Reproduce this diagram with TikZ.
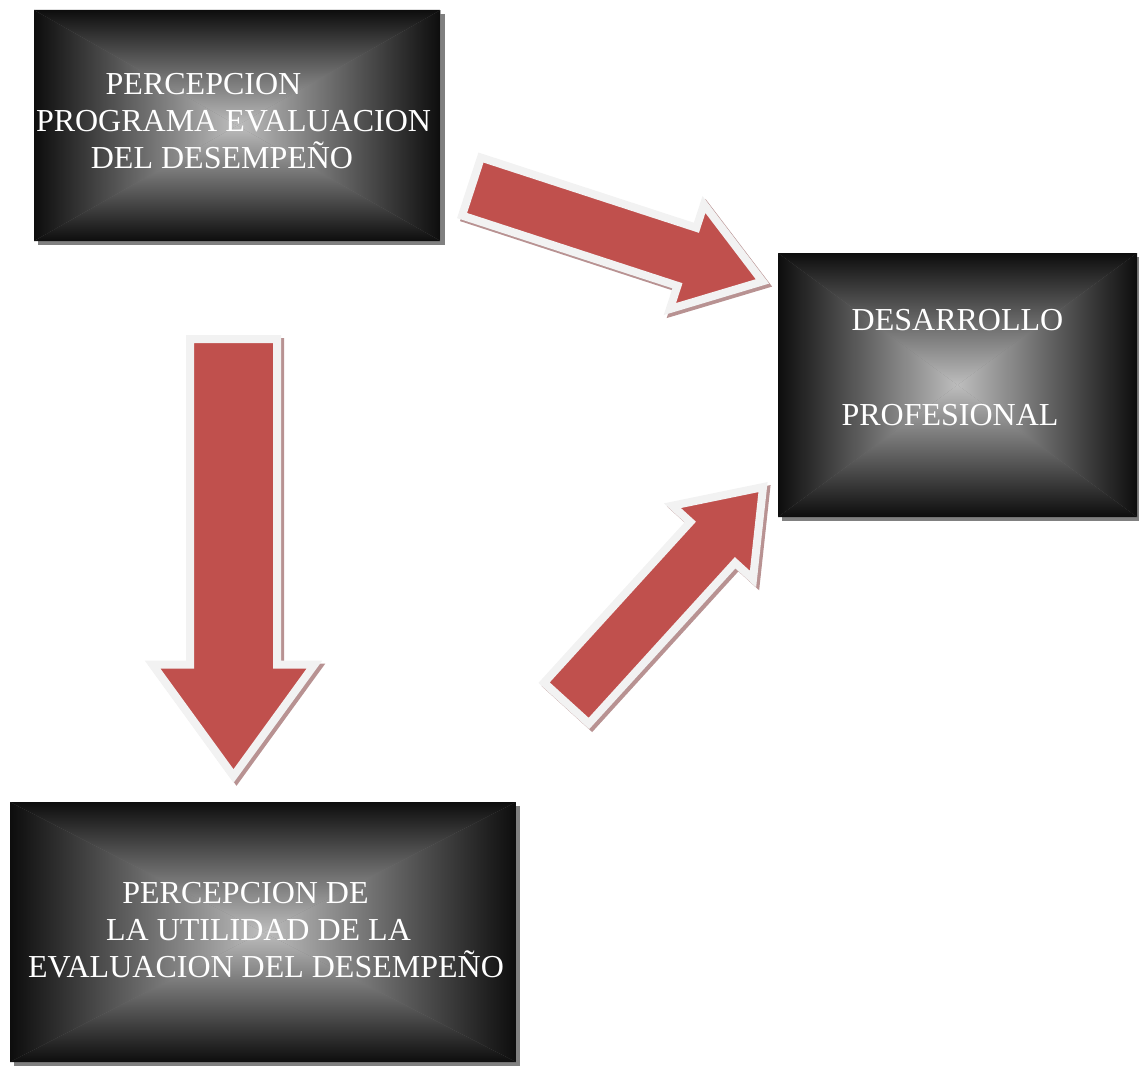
\documentclass[tikz,border=0pt]{standalone}
\usepackage{fontspec}
\setmainfont{Liberation Serif}
\usepackage{xcolor}
\usetikzlibrary{shapes,arrows,positioning,shadows}
\definecolor{boxedge}{HTML}{0D0D0D}
\definecolor{boxhalf}{HTML}{777777}
\definecolor{boxmid}{HTML}{BDBDBD}
\definecolor{arrowred}{HTML}{C0504D}
\definecolor{arrowrim}{HTML}{F2F2F2}
\definecolor{arrowshade}{RGB}{184,146,146}

\begin{document}
\begin{tikzpicture}[x=1pt,y=-1pt,
  box/.style={inner sep=0pt,
    drop shadow={shadow xshift=4pt,shadow yshift=-4pt,fill=black!50,opacity=1},
    path picture={
      \coordinate (ppc) at (path picture bounding box.center);
      \fill[boxhalf] (path picture bounding box.north west) rectangle (path picture bounding box.south east);
      \begin{scope}
        \clip (path picture bounding box.north west) -- (path picture bounding box.north east) -- (ppc) -- cycle;
        \shade[top color=boxedge,middle color=boxhalf,bottom color=boxmid] (path picture bounding box.north west) rectangle (path picture bounding box.east);
      \end{scope}
      \begin{scope}
        \clip (path picture bounding box.south west) -- (path picture bounding box.south east) -- (ppc) -- cycle;
        \shade[top color=boxmid,middle color=boxhalf,bottom color=boxedge] (path picture bounding box.west) rectangle (path picture bounding box.south east);
      \end{scope}
      \begin{scope}
        \clip (path picture bounding box.north west) -- (path picture bounding box.south west) -- (ppc) -- cycle;
        \shade[left color=boxedge,middle color=boxhalf,right color=boxmid] (path picture bounding box.north west) rectangle (path picture bounding box.south);
      \end{scope}
      \begin{scope}
        \clip (path picture bounding box.north east) -- (path picture bounding box.south east) -- (ppc) -- cycle;
        \shade[left color=boxmid,middle color=boxhalf,right color=boxedge] (path picture bounding box.north) rectangle (path picture bounding box.south east);
      \end{scope}}},
  txt/.style={text=white,font=\fontsize{32}{37}\selectfont,inner sep=0pt,anchor=base},
  fatarrow/.style={single arrow,anchor=tail,fill=arrowred,draw=arrowrim,line width=8pt,inner xsep=0pt,minimum width=0pt,
    drop shadow={shadow xshift=3pt,shadow yshift=-3pt,fill=arrowshade,draw=arrowshade,line width=8pt,opacity=1}}]
    \useasboundingbox (0,0) rectangle (1139,1065);
    % Boxes with their text lines
    \node[box,minimum width=406.5pt,minimum height=231pt] at (237.25,125.5) (percep) {};
    \node[txt] at (203.5,94) (percep1) {PERCEPCION};
    \node[txt] at (233.5,131) (percep2) {PROGRAMA EVALUACION};
    \node[txt] at (222,168) (percep3) {DEL DESEMPEÑO};

    \node[box,minimum width=359pt,minimum height=264pt] at (957.5,385) (desarrollo) {};
    \node[txt] at (957.5,330) (desarrollo1) {DESARROLLO};
    \node[txt] at (950,425) (desarrollo2) {PROFESIONAL};

    \node[box,minimum width=506pt,minimum height=260pt] at (263,932) (utilidad) {};
    \node[txt] at (245.5,903) (utilidad1) {PERCEPCION DE};
    \node[txt] at (258.5,940) (utilidad2) {LA UTILIDAD DE LA};
    \node[txt] at (266,977) (utilidad3) {EVALUACION DEL DESEMPEÑO};

    % Block arrows, placed by their tail ends
    \node[fatarrow,rotate=-18.06,minimum height=306pt,inner ysep=26.5pt,single arrow head extend=24.5pt,single arrow tip angle=69.4] at (467.7,185.3) (arrPD) {};
    \node[fatarrow,rotate=-90,minimum height=437pt,inner ysep=39.5pt,single arrow head extend=37.5pt,single arrow tip angle=72] at (233.5,335) (arrPU) {};
    \node[fatarrow,rotate=47.7,minimum height=292pt,inner ysep=26.3pt,single arrow head extend=24.2pt,single arrow tip angle=72.2] at (563.8,706) (arrUD) {};
\end{tikzpicture}
\end{document}
